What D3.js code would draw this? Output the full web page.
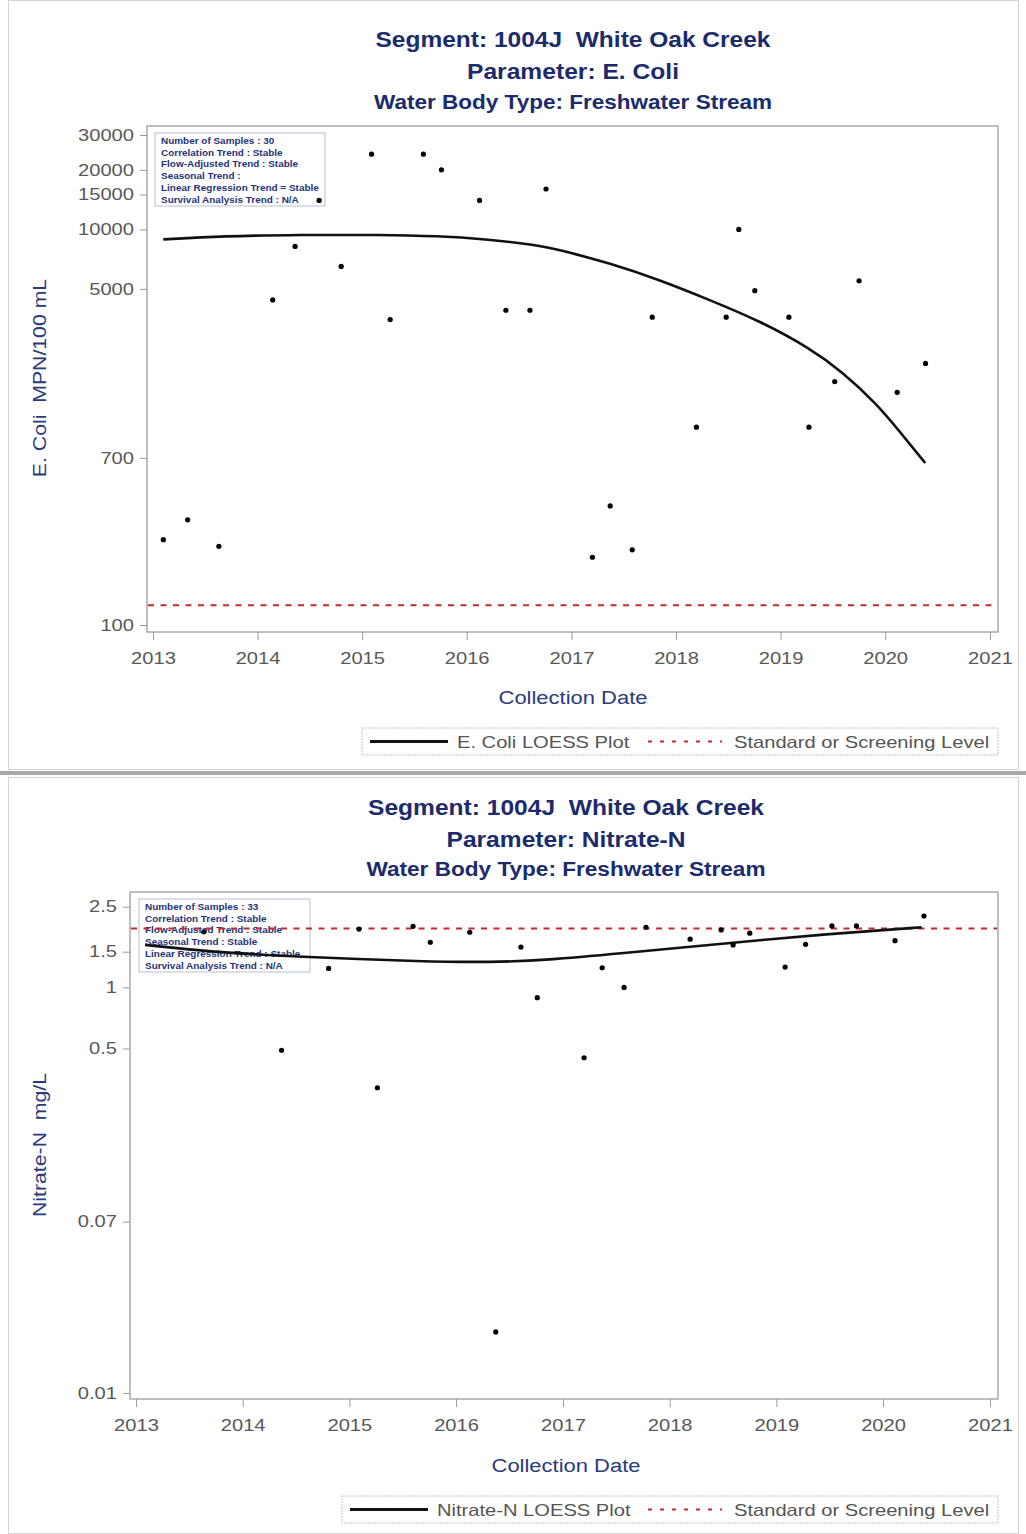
<!DOCTYPE html>
<html><head><meta charset="utf-8">
<script src="https://cdn.jsdelivr.net/npm/d3@7"></script>
<style>body{margin:0;background:#fff;} svg{display:block;font-family:"Liberation Sans",Arial,sans-serif;} text{white-space:pre;}</style>
</head><body><svg id="c" width="1026" height="1534"></svg>
<script>
// ---------- DATA ----------
const yearTicks = [2013, 2014, 2015, 2016, 2017, 2018, 2019, 2020, 2021];

const ecoliTitles = ["Segment: 1004J  White Oak Creek", "Parameter: E. Coli", "Water Body Type: Freshwater Stream"];
const ecoliDates = ["2013-02-06","2013-05-02","2013-08-19","2014-02-23","2014-05-12","2014-08-04","2014-10-20",
  "2015-02-03","2015-04-09","2015-08-03","2015-10-05","2016-02-15","2016-05-17","2016-08-09","2016-10-04",
  "2017-03-15","2017-05-16","2017-08-01","2017-10-10","2018-03-13","2018-06-25","2018-08-08","2018-10-03",
  "2019-01-30","2019-04-10","2019-07-09","2019-10-02","2020-02-12","2020-05-21"];
const ecoliValues = [270, 340, 250, 4400, 8200, 14000, 6500,
  24000, 3500, 24000, 20000, 14000, 3900, 3900, 16000,
  220, 400, 240, 3600, 1000, 3600, 10000, 4900,
  3600, 1000, 1700, 5500, 1500, 2100];
const ecoliLoessDates = ["2013-02-06","2013-09-01","2014-06-01","2015-03-01","2015-09-27","2016-03-01","2016-09-01",
  "2016-11-21","2017-05-16","2017-11-05","2018-04-28","2018-10-21","2019-04-13",
  "2019-08-06","2019-12-03","2020-02-22","2020-05-20"];
const ecoliLoessValues = [8900, 9250, 9400, 9400, 9250, 8950, 8350,
  7870, 6740, 5550, 4400, 3440, 2510,
  1900, 1310, 946, 659];
const ecoliStandard = 126;
const ecoliTicks = [100, 700, 5000, 10000, 15000, 20000, 30000];
const ecoliInfo = ["Number of Samples : 30", "Correlation Trend : Stable", "Flow-Adjusted Trend : Stable",
  "Seasonal Trend :", "Linear Regression Trend = Stable", "Survival Analysis Trend : N/A"];
const ecoliLegend = ["E. Coli LOESS Plot", "Standard or Screening Level"];
const ecoliYLabel = "E. Coli  MPN/100 mL";

const nitrateTitles = ["Segment: 1004J  White Oak Creek", "Parameter: Nitrate-N", "Water Body Type: Freshwater Stream"];
const nitrateDates = ["2013-08-21","2014-05-14","2014-10-22","2015-02-03","2015-04-07","2015-08-07","2015-10-05",
  "2016-02-17","2016-05-16","2016-08-10","2016-10-05","2017-03-14","2017-05-15","2017-07-29","2017-10-12",
  "2018-03-12","2018-06-26","2018-08-06","2018-10-02","2019-01-31","2019-04-11","2019-07-10","2019-10-02",
  "2020-02-11","2020-05-20"];
const nitrateValues = [1.88, 0.49, 1.24, 1.94, 0.32, 2.0, 1.67,
  1.87, 0.020, 1.58, 0.89, 0.45, 1.25, 1.0, 1.98,
  1.73, 1.92, 1.62, 1.85, 1.26, 1.63, 2.01, 2.01,
  1.70, 2.25];
const nitrateLoessDates = ["2013-02-01","2013-11-17","2014-08-18","2015-09-10","2016-05-01","2016-11-01",
  "2017-08-06","2018-03-22","2018-11-05","2019-06-21","2020-02-04","2020-05-12"];
const nitrateLoessValues = [1.62, 1.47, 1.41, 1.34, 1.33, 1.36, 1.48, 1.59, 1.71, 1.83, 1.93, 1.98];
const nitrateStandard = 1.95;
const nitrateTicks = [0.01, 0.07, 0.5, 1, 1.5, 2.5];
const nitrateInfo = ["Number of Samples : 33", "Correlation Trend : Stable", "Flow-Adjusted Trend : Stable",
  "Seasonal Trend : Stable", "Linear Regression Trend : Stable", "Survival Analysis Trend : N/A"];
const nitrateLegend = ["Nitrate-N LOESS Plot", "Standard or Screening Level"];
const nitrateYLabel = "Nitrate-N  mg/L";

// ---------- LAYOUT ----------
const parse = d3.timeParse("%Y-%m-%d");
const svg = d3.select("#c");
const TITLE = "#1b2b6c", LAB = "#2a3a7c", TICK = "#585858", RED = "#c42a2e";

function stretch(sel, sx) {
  sel.each(function () {
    const w = this.getComputedTextLength();
    this.setAttribute("textLength", w * sx);
    this.setAttribute("lengthAdjust", "spacingAndGlyphs");
  });
}
function fit(sel, width) {
  sel.attr("textLength", width).attr("lengthAdjust", "spacingAndGlyphs");
}

// outer borders and separator
svg.append("rect").attr("x", 8.5).attr("y", 0.5).attr("width", 1010).attr("height", 769)
  .attr("fill", "none").attr("stroke", "#d4d4d4");
svg.append("rect").attr("x", 8.5).attr("y", 777.5).attr("width", 1010).attr("height", 756)
  .attr("fill", "none").attr("stroke", "#d4d4d4");
svg.append("rect").attr("x", 0).attr("y", 771).attr("width", 1026).attr("height", 4).attr("fill", "#a9a9a9");

function panel(cfg) {
  const g = svg.append("g");
  const x = d3.scaleTime()
    .domain([new Date(yearTicks[0], 0, 1), new Date(yearTicks[yearTicks.length - 1], 0, 1)])
    .range(cfg.xRange);
  const y = d3.scaleLog().domain(cfg.yDomain).range(cfg.yRange);
  const f = cfg.frame;

  // titles
  cfg.titles.forEach((t, i) => {
    const el = g.append("text").attr("x", cfg.titleX).attr("y", cfg.titleY[i])
      .attr("text-anchor", "middle").attr("font-weight", "bold")
      .attr("font-size", i < 2 ? 21.5 : 19.5).attr("fill", TITLE).text(t);
    fit(el, cfg.titleW[i]);
  });

  // frame
  g.append("rect").attr("x", f.x0).attr("y", f.y0).attr("width", f.x1 - f.x0).attr("height", f.y1 - f.y0)
    .attr("fill", "#fff").attr("stroke", "#a8a8a8").attr("stroke-width", 1.5);

  // info box
  const ib = cfg.info;
  g.append("rect").attr("x", ib.x).attr("y", ib.y).attr("width", ib.w).attr("height", ib.h)
    .attr("fill", "#fff").attr("stroke", "#b8bfd8").attr("stroke-width", 1);
  const infoT = g.selectAll("text.info").data(cfg.infoLines).join("text").attr("class", "info")
    .attr("x", ib.x + 6).attr("y", (d, i) => ib.y + 11 + i * 11.7)
    .attr("font-size", 8.5).attr("font-weight", "bold").attr("fill", "#1f3378").text(d => d);
  stretch(infoT, 1.17);

  // y axis
  const ya = g.append("g").attr("transform", `translate(${f.x0},0)`)
    .call(d3.axisLeft(y).tickValues(cfg.yTicks).tickFormat(d => String(d)).tickSize(7).tickPadding(6));
  ya.select(".domain").remove();
  ya.selectAll(".tick line").attr("stroke", "#9a9a9a");
  ya.selectAll(".tick text").attr("font-size", 16.5).attr("fill", TICK).attr("font-family", "Liberation Sans, Arial, sans-serif");
  stretch(ya.selectAll(".tick text"), 1.22);

  // x axis
  const xa = g.append("g").attr("transform", `translate(0,${f.y1})`)
    .call(d3.axisBottom(x).tickValues(yearTicks.map(yr => new Date(yr, 0, 1))).tickFormat(d3.timeFormat("%Y")).tickSize(8).tickPadding(0));
  xa.select(".domain").remove();
  xa.selectAll(".tick line").attr("stroke", "#9a9a9a");
  xa.selectAll(".tick text").attr("font-size", 16.5).attr("fill", TICK).attr("dy", null)
    .attr("y", cfg.tickLabelY - f.y1).attr("font-family", "Liberation Sans, Arial, sans-serif");
  stretch(xa.selectAll(".tick text"), 1.22);

  // axis labels
  const xl = g.append("text").attr("x", cfg.titleX).attr("y", cfg.xLabelY).attr("text-anchor", "middle")
    .attr("font-size", 18).attr("fill", LAB).text("Collection Date");
  stretch(xl, 1.22);
  const yl = g.append("text").attr("transform", `translate(${cfg.yLabelX},${cfg.yLabelY}) rotate(-90)`)
    .attr("text-anchor", "middle").attr("font-size", 18).attr("fill", LAB).text(cfg.yLabel);
  stretch(yl, 1.18);

  // standard line
  g.append("line").attr("x1", f.x0 + 1).attr("x2", f.x1 - 1)
    .attr("y1", y(cfg.standard)).attr("y2", y(cfg.standard))
    .attr("stroke", RED).attr("stroke-width", 2).attr("stroke-dasharray", "6,6.5");

  // loess line
  const ld = cfg.loessDates.map((d, i) => ({ d: parse(d), v: cfg.loessValues[i] }));
  g.append("path").datum(ld)
    .attr("d", d3.line().x(p => x(p.d)).y(p => y(p.v)).curve(d3.curveBasis))
    .attr("fill", "none").attr("stroke", "#111").attr("stroke-width", 2.6);

  // points
  const pd = cfg.dates.map((d, i) => ({ d: parse(d), v: cfg.values[i] }));
  g.selectAll("circle.pt").data(pd).join("circle").attr("class", "pt")
    .attr("cx", p => x(p.d)).attr("cy", p => y(p.v)).attr("r", 2.6).attr("fill", "#000");

  // legend
  const L = cfg.legend;
  g.append("rect").attr("x", L.x0).attr("y", L.y0).attr("width", L.x1 - L.x0).attr("height", L.y1 - L.y0)
    .attr("fill", "#fff").attr("stroke", "#c4c4c4").attr("stroke-dasharray", "2,1");
  const my = (L.y0 + L.y1) / 2;
  g.append("line").attr("x1", L.x0 + 8).attr("x2", L.x0 + 86).attr("y1", my).attr("y2", my)
    .attr("stroke", "#111").attr("stroke-width", 3);
  const t1 = g.append("text").attr("x", L.x0 + 95).attr("y", my + 6).attr("font-size", 16.5).attr("fill", "#555")
    .text(cfg.legendText[0]);
  stretch(t1, 1.22);
  g.append("line").attr("x1", 648).attr("x2", 722).attr("y1", my).attr("y2", my)
    .attr("stroke", RED).attr("stroke-width", 2).attr("stroke-dasharray", "4,8");
  const t2 = g.append("text").attr("x", 734).attr("y", my + 6).attr("font-size", 16.5).attr("fill", "#555")
    .text(cfg.legendText[1]);
  stretch(t2, 1.22);
}

panel({
  titles: ecoliTitles, titleX: 573, titleY: [47, 79, 109], titleW: [395, 212, 398],
  frame: { x0: 147, x1: 998, y0: 126, y1: 632 },
  xRange: [153, 990], yDomain: [100, 30000], yRange: [625, 135], yTicks: ecoliTicks,
  tickLabelY: 664, xLabelY: 704, yLabelX: 46, yLabelY: 378, yLabel: ecoliYLabel,
  info: { x: 155, y: 133, w: 170, h: 73 }, infoLines: ecoliInfo,
  standard: ecoliStandard, loessDates: ecoliLoessDates, loessValues: ecoliLoessValues,
  dates: ecoliDates, values: ecoliValues,
  legend: { x0: 362, x1: 998, y0: 728, y1: 755 }, legendText: ecoliLegend
});

panel({
  titles: nitrateTitles, titleX: 566, titleY: [815, 847, 876], titleW: [396, 239, 399],
  frame: { x0: 130, x1: 998, y0: 892, y1: 1399 },
  xRange: [136, 990], yDomain: [0.01, 2.5], yRange: [1393, 906.7], yTicks: nitrateTicks,
  tickLabelY: 1431, xLabelY: 1472, yLabelX: 46, yLabelY: 1145, yLabel: nitrateYLabel,
  info: { x: 139, y: 899, w: 171, h: 73 }, infoLines: nitrateInfo,
  standard: nitrateStandard, loessDates: nitrateLoessDates, loessValues: nitrateLoessValues,
  dates: nitrateDates, values: nitrateValues,
  legend: { x0: 342, x1: 998, y0: 1496, y1: 1523 }, legendText: nitrateLegend
});
</script>
</body></html>
